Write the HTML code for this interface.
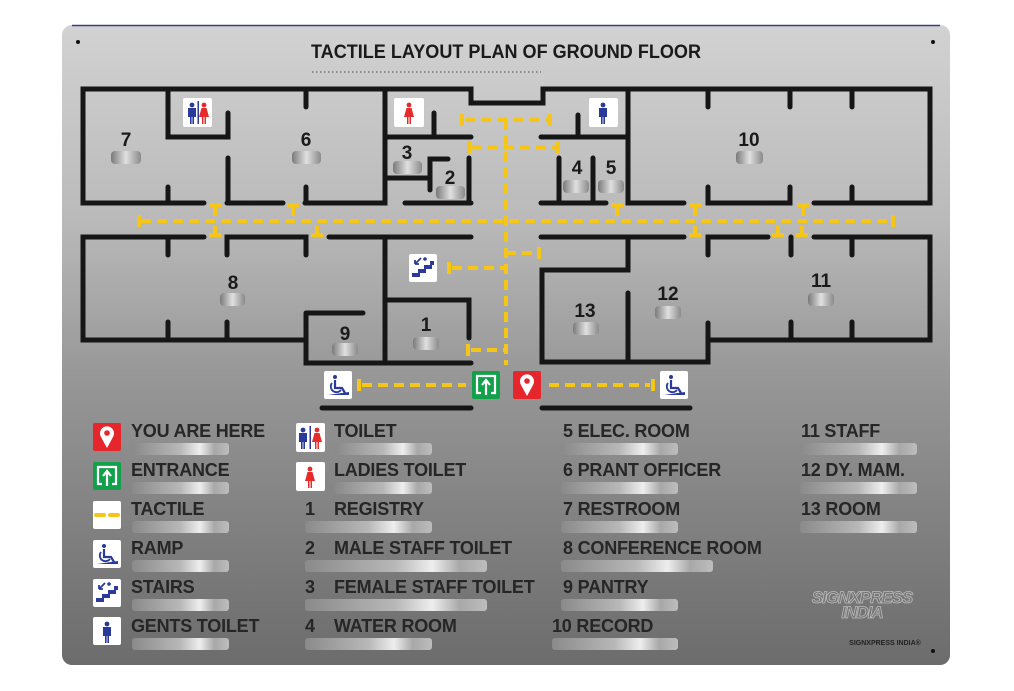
<!DOCTYPE html>
<html><head><meta charset="utf-8"><style>
html,body{margin:0;padding:0;background:#fff;}
svg{display:block;}
text{font-family:"Liberation Sans","DejaVu Sans",sans-serif;font-weight:bold;}
</style></head><body>
<svg width="1014" height="691" viewBox="0 0 1014 691" xmlns="http://www.w3.org/2000/svg">
<defs>
<linearGradient id="bg" x1="0" y1="0" x2="0" y2="1">
<stop offset="0" stop-color="#d2d2d2"/>
<stop offset="0.3" stop-color="#bababa"/>
<stop offset="0.55" stop-color="#979797"/>
<stop offset="0.8" stop-color="#7f7f7f"/>
<stop offset="1" stop-color="#6c6c6c"/>
</linearGradient>
<linearGradient id="br" x1="0" y1="0" x2="1" y2="0">
<stop offset="0" stop-color="#8a8a8a"/>
<stop offset="0.5" stop-color="#b8b8b8"/>
<stop offset="0.7" stop-color="#eeeeee"/>
<stop offset="0.85" stop-color="#a8a8a8"/>
<stop offset="1" stop-color="#bdbdbd"/>
</linearGradient>
<linearGradient id="pl" x1="0" y1="0" x2="1" y2="0">
<stop offset="0" stop-color="#7a7a7a"/>
<stop offset="0.5" stop-color="#e0e0e0"/>
<stop offset="1" stop-color="#8a8a8a"/>
</linearGradient>
<g id="fem"><circle cx="0" cy="-8" r="2.4" fill="#e52b2b"/><path d="M-2.5,-5 L2.5,-5 L5,4 L2,4 L2,11 L0.5,11 L0.5,4 L-0.5,4 L-0.5,11 L-2,11 L-2,4 L-5,4 Z" fill="#e52b2b"/></g>
<g id="mal"><circle cx="0" cy="-8" r="2.4" fill="#2a3a9a"/><path d="M-4,-5 L4,-5 L4,4 L2,4 L2,11 L0.4,11 L0.4,4 L-0.4,4 L-0.4,11 L-2,11 L-2,4 L-4,4 Z" fill="#2a3a9a"/></g>
<g id="ramp"><rect x="-14" y="-14" width="28" height="28" rx="2" fill="#fff"/><circle cx="-3" cy="-8" r="2" fill="#2a3a9a"/><path d="M-3,-5 L-3,3 L4,3 L7,8" stroke="#2a3a9a" stroke-width="2.2" fill="none"/><path d="M-6,-2 A5,5 0 1 0 3,5" stroke="#2a3a9a" stroke-width="1.8" fill="none"/><path d="M-10,10 L11,10 L11,7 Z" fill="#2a3a9a"/></g>
<g id="stairs"><rect x="-14" y="-14" width="28" height="28" rx="2" fill="#fff"/><path d="M-11,9 L-11,5 L-5,5 L-5,1 L1,1 L1,-3 L7,-3 L7,-7 L11,-7 L11,-3 L11,-3 L9,-3 L9,1 L3,1 L3,5 L-3,5 L-3,9 Z" fill="#2a3a9a"/><path d="M-2,-10 L-8,-4 M-8,-4 L-8,-8 M-8,-4 L-4,-4" stroke="#2a3a9a" stroke-width="1.8" fill="none"/><circle cx="2" cy="-9" r="1.8" fill="#2a3a9a"/></g>
<g id="ent"><rect x="-14" y="-14" width="28" height="28" rx="2" fill="#12a04a"/><path d="M-5,8 L-9,8 L-9,-9 L9,-9 L9,8 L5,8" stroke="#fff" stroke-width="2.2" fill="none"/><path d="M0,10 L0,-4 M-4,0 L0,-5 L4,0" stroke="#fff" stroke-width="2.2" fill="none"/></g>
<g id="pin"><rect x="-14" y="-14" width="28" height="28" rx="2" fill="#e5262c"/><path d="M0,11 L-6,0 A7,7 0 1 1 6,0 Z" fill="#fff"/><circle cx="0" cy="-4" r="2.8" fill="#e5262c"/></g>
</defs>
<rect x="62" y="25" width="888" height="640" rx="10" fill="url(#bg)"/>
<path d="M72,25.5 L940,25.5" stroke="#3a3a8a" stroke-width="1.5"/>
<circle cx="78" cy="42" r="2" fill="#111"/><circle cx="933" cy="42" r="2" fill="#111"/><circle cx="933" cy="651" r="2" fill="#111"/>
<text x="506" y="58" font-size="19" text-anchor="middle" fill="#1a1a1a" textLength="390" lengthAdjust="spacingAndGlyphs">TACTILE LAYOUT PLAN OF GROUND FLOOR</text>
<path d="M312,72 L541,72" stroke="#8a8a8a" stroke-width="2" stroke-dasharray="1.5 2.5"/>

<g stroke="#161616" stroke-width="5" stroke-linecap="round" fill="none">
<path d="M204,203 L83,203 L83,89 L471,89 L471,103 L543,103 L543,89 L930,89 L930,203 L814,203"/>
<path d="M227,203 L283,203 M305,203 L385,203 L385,89"/>
<path d="M168,89 L168,137 L228,137 L228,113 M168,187 L168,203 M228,158 L228,203 M306,89 L306,107 M306,187 L306,203"/>
<path d="M385,137 L471,137 M434,113 L434,137 M385,178 L430,178 M430,190 L430,159 L448,159 M469,158 L469,203 M405,203 L471,203"/>
<path d="M578,115 L578,137 M541,137 L628,137 M628,89 L628,203 L684,203 M559,158 L559,203 M593,158 L593,203 M541,203 L606,203"/>
<path d="M708,187 L708,203 L790,203 L790,187 M708,89 L708,107 M790,89 L790,107 M852,89 L852,107 M852,187 L852,203"/>
<path d="M204,237 L83,237 L83,340 L306,340 M168,237 L168,255 M227,255 L227,237 L306,237 L306,255 M168,322 L168,340 M227,322 L227,340"/>
<path d="M329,237 L471,237 M385,237 L385,363 M306,313 L306,363 L471,363 M306,313 L363,313 M385,300 L469,300 L469,338"/>
<path d="M541,237 L684,237 M628,237 L628,270 L542,270 L542,362 L708,362 L708,323 M628,293 L628,362"/>
<path d="M708,255 L708,237 L768,237 M791,237 L791,255 M814,237 L930,237 L930,340 L708,340 M852,237 L852,255 M791,322 L791,340 M852,322 L852,340"/>
<path d="M322,408 L471,408 M542,408 L690,408"/>
</g>

<g stroke="#f5c518" stroke-width="4" fill="none">
<path d="M141,221 L890,221" stroke-dasharray="10 6"/>
<path d="M506,120 L506,365" stroke-dasharray="10 6"/>
<path d="M465,120 L549,120" stroke-dasharray="10 6"/>
<path d="M472,147 L556,147" stroke-dasharray="10 6"/>
<path d="M452,268 L506,268 M506,253 L536,253" stroke-dasharray="10 6"/>
<path d="M471,350 L506,350" stroke-dasharray="10 6"/>
<path d="M362,385 L466,385" stroke-dasharray="10 6"/>
<path d="M549,385 L650,385" stroke-dasharray="10 6"/>
<path d="M139,215 L139,227 M893,215 L893,227 M462,114 L462,126 M550,114 L550,126 M469,141 L469,153 M558,141 L558,153 M449,262 L449,274 M539,247 L539,259 M468,344 L468,356 M359,379 L359,391 M653,379 L653,391" stroke-width="4"/>
<path d="M215,206 L215,216 M209,205 L221,205 M293,206 L293,216 M287,205 L299,205 M617,206 L617,216 M611,205 L623,205 M695,206 L695,216 M689,205 L701,205 M803,206 L803,216 M797,205 L809,205"/>
<path d="M215,226 L215,234 M209,235 L221,235 M317,226 L317,234 M311,235 L323,235 M695,226 L695,234 M689,235 L701,235 M778,226 L778,234 M772,235 L784,235 M802,226 L802,234 M796,235 L808,235"/>
</g>

<rect x="183" y="98" width="29" height="29" rx="2" fill="#fff"/>
<use href="#mal" x="192" y="113"/><use href="#fem" x="204" y="113"/><rect x="197.5" y="101" width="1.5" height="23" fill="#2a3a9a"/>
<rect x="394" y="98" width="30" height="29" rx="2" fill="#fff"/><use href="#fem" x="409" y="113"/>
<rect x="589" y="98" width="29" height="29" rx="2" fill="#fff"/><use href="#mal" x="603" y="113"/>
<use href="#stairs" x="423" y="268"/>
<use href="#ramp" x="338" y="385"/>
<use href="#ent" x="486" y="385"/>
<use href="#pin" x="527" y="385"/>
<use href="#ramp" x="674" y="385"/>

<g font-size="19" fill="#1a1a1a" text-anchor="middle">
<text x="126" y="146">7</text><text x="306" y="146">6</text><text x="407" y="159">3</text><text x="450" y="184">2</text>
<text x="577" y="174">4</text><text x="611" y="174">5</text><text x="749" y="146">10</text>
<text x="233" y="289">8</text><text x="345" y="340">9</text><text x="426" y="331">1</text>
<text x="585" y="317">13</text><text x="668" y="300">12</text><text x="821" y="287">11</text>
</g>
<g fill="url(#pl)">
<rect x="111" y="151" width="30" height="13" rx="4"/><rect x="292" y="151" width="29" height="13" rx="4"/>
<rect x="393" y="161" width="29" height="13" rx="4"/><rect x="436" y="186" width="29" height="13" rx="4"/>
<rect x="563" y="180" width="26" height="13" rx="4"/><rect x="598" y="180" width="26" height="13" rx="4"/>
<rect x="736" y="151" width="27" height="13" rx="4"/><rect x="220" y="293" width="25" height="13" rx="4"/>
<rect x="332" y="343" width="26" height="13" rx="4"/><rect x="413" y="337" width="26" height="13" rx="4"/>
<rect x="573" y="322" width="26" height="13" rx="4"/><rect x="655" y="306" width="26" height="13" rx="4"/>
<rect x="808" y="293" width="26" height="13" rx="4"/>
</g>

<!-- Legend -->
<use href="#pin" x="107" y="437"/>
<use href="#ent" x="107" y="476"/>
<rect x="93" y="501" width="28" height="28" rx="2" fill="#fff"/><path d="M96,515 L104,515 M110,515 L118,515" stroke="#f5c518" stroke-width="4" stroke-linecap="round"/>
<use href="#ramp" x="107" y="554"/>
<use href="#stairs" x="107" y="593"/>
<rect x="93" y="617" width="28" height="28" rx="2" fill="#fff"/><use href="#mal" x="107" y="632"/>
<rect x="296" y="423" width="29" height="29" rx="2" fill="#fff"/><use href="#mal" x="303" y="438"/><use href="#fem" x="317" y="438"/><rect x="309.5" y="426" width="1.5" height="23" fill="#2a3a9a"/>
<rect x="296" y="462" width="29" height="29" rx="2" fill="#fff"/><use href="#fem" x="310" y="477"/>

<g fill="url(#br)">
<rect x="132" y="443" width="97" height="12" rx="3"/><rect x="132" y="482" width="97" height="12" rx="3"/>
<rect x="132" y="521" width="97" height="12" rx="3"/><rect x="132" y="560" width="97" height="12" rx="3"/>
<rect x="132" y="599" width="97" height="12" rx="3"/><rect x="132" y="638" width="97" height="12" rx="3"/>
<rect x="335" y="443" width="97" height="12" rx="3"/><rect x="335" y="482" width="97" height="12" rx="3"/>
<rect x="305" y="521" width="127" height="12" rx="3"/><rect x="305" y="560" width="182" height="12" rx="3"/>
<rect x="305" y="599" width="182" height="12" rx="3"/><rect x="305" y="638" width="127" height="12" rx="3"/>
<rect x="561" y="443" width="117" height="12" rx="3"/><rect x="561" y="482" width="117" height="12" rx="3"/>
<rect x="561" y="521" width="117" height="12" rx="3"/><rect x="561" y="560" width="152" height="12" rx="3"/>
<rect x="561" y="599" width="117" height="12" rx="3"/><rect x="552" y="638" width="126" height="12" rx="3"/>
<rect x="800" y="443" width="117" height="12" rx="3"/><rect x="800" y="482" width="117" height="12" rx="3"/>
<rect x="800" y="521" width="117" height="12" rx="3"/>
</g>

<g font-size="18" fill="#262626" letter-spacing="-0.2">
<text x="131" y="437">YOU ARE HERE</text><text x="131" y="476">ENTRANCE</text><text x="131" y="515">TACTILE</text>
<text x="131" y="554">RAMP</text><text x="131" y="593">STAIRS</text><text x="131" y="632">GENTS TOILET</text>
<text x="334" y="437">TOILET</text><text x="334" y="476">LADIES TOILET</text>
<text x="305" y="515">1</text><text x="334" y="515">REGISTRY</text>
<text x="305" y="554">2</text><text x="334" y="554">MALE STAFF TOILET</text>
<text x="305" y="593">3</text><text x="334" y="593">FEMALE STAFF TOILET</text>
<text x="305" y="632">4</text><text x="334" y="632">WATER ROOM</text>
<text x="563" y="437">5 ELEC. ROOM</text><text x="563" y="476">6 PRANT OFFICER</text>
<text x="563" y="515">7 RESTROOM</text><text x="563" y="554">8 CONFERENCE ROOM</text>
<text x="563" y="593">9 PANTRY</text><text x="552" y="632">10 RECORD</text>
<text x="801" y="437">11 STAFF</text><text x="801" y="476">12 DY. MAM.</text><text x="801" y="515">13 ROOM</text>
</g>
<text x="862" y="603" font-size="17" text-anchor="middle" font-style="italic" fill="none" stroke="#bbb" stroke-width="0.8" font-family="Liberation Serif" letter-spacing="-1">SIGNXPRESS</text>
<text x="862" y="618" font-size="17" text-anchor="middle" font-style="italic" fill="none" stroke="#bbb" stroke-width="0.8" letter-spacing="-1">INDIA</text>
<text x="885" y="645" font-size="7" text-anchor="middle" fill="#222">SIGNXPRESS INDIA®</text>
</svg>
</body></html>
